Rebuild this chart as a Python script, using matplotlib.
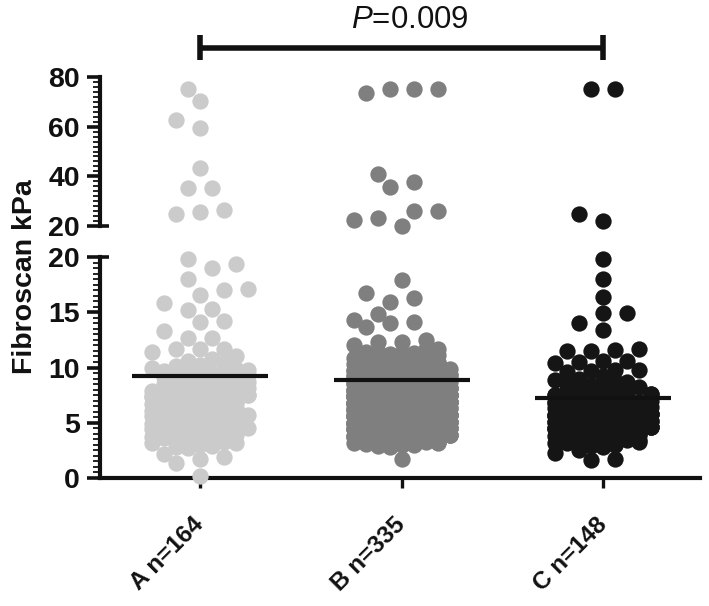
import numpy as np
import matplotlib
matplotlib.use('Agg')
import matplotlib.pyplot as plt
from matplotlib.ticker import MultipleLocator
from matplotlib.transforms import blended_transform_factory

plt.rcParams['font.family'] = ['Liberation Sans', 'DejaVu Sans']
plt.rcParams['mathtext.fontset'] = 'custom'
plt.rcParams['mathtext.it'] = 'Liberation Sans:italic'
plt.rcParams['mathtext.rm'] = 'Liberation Sans'

# ---------------- data ----------------
categories = ['A n=164', 'B n=335', 'C n=148']

group_a = [
    75.0, 70.4, 62.5, 59.4, 43.3, 35.2, 35.2, 26.4, 25.5, 24.7,
    19.8, 19.4, 19.0, 18.0, 17.1, 17.0, 16.6, 15.8, 15.3, 15.2,
    14.2, 14.1, 13.3, 12.7, 12.7, 11.7, 11.7, 11.7, 11.4, 11.0, 10.8, 10.6,
    10.4, 10.2, 10.1, 10.0, 9.9, 9.8,
    9.7, 9.6, 9.5, 9.5, 9.4, 9.3, 9.2, 9.2, 9.1, 9.0,
    8.9, 8.8, 8.8, 8.7, 8.6, 8.5, 8.5, 8.4, 8.3, 8.2, 8.2, 8.1, 8.0,
    7.9, 7.9, 7.8, 7.8, 7.7, 7.6, 7.6, 7.5, 7.5, 7.4, 7.3, 7.3, 7.2, 7.2, 7.1, 7.0, 7.0,
    6.9, 6.9, 6.8, 6.8, 6.7, 6.7, 6.6, 6.6, 6.5, 6.5, 6.4, 6.4, 6.3, 6.3, 6.2, 6.2, 6.1, 6.1, 6.0, 6.0,
    5.9, 5.9, 5.8, 5.8, 5.7, 5.7, 5.6, 5.6, 5.5, 5.5, 5.5, 5.4, 5.4, 5.3, 5.3, 5.2, 5.2, 5.1, 5.1, 5.0, 5.0,
    4.9, 4.9, 4.8, 4.8, 4.7, 4.7, 4.6, 4.6, 4.5, 4.5, 4.5, 4.4, 4.4, 4.3, 4.3, 4.2, 4.2, 4.1, 4.1, 4.0, 4.0,
    3.9, 3.8, 3.8, 3.7, 3.7, 3.6, 3.6, 3.5, 3.5, 3.4, 3.4, 3.3, 3.2, 3.2, 3.1, 3.0,
    2.9, 2.8, 2.7,
    2.2, 1.9, 1.7, 1.4, 0.2,
]

group_b = [
    75.0, 75.0, 75.0, 73.4, 41.0, 37.9, 35.9, 26.0, 26.0, 23.4, 22.4, 20.1,
    17.9, 16.7, 16.3, 15.9, 14.8, 14.3, 14.1, 14.0, 13.7, 12.5, 12.3, 12.3, 12.0, 11.7, 11.7,
    11.4, 11.4, 11.3, 11.3, 11.2, 11.1, 11.1, 11.0,
    10.9, 10.9, 10.8, 10.8, 10.7, 10.7, 10.6, 10.6, 10.5, 10.5,
    10.4, 10.4, 10.3, 10.3, 10.2, 10.2, 10.1, 10.1, 10.0, 10.0,
    9.9, 9.9, 9.8, 9.8, 9.8, 9.7, 9.7, 9.7, 9.6, 9.6, 9.6, 9.5, 9.5, 9.5,
    9.4, 9.4, 9.4, 9.3, 9.3, 9.3, 9.2, 9.2, 9.2, 9.1, 9.1, 9.0, 9.0, 9.0,
    8.9, 8.9, 8.9, 8.9, 8.8, 8.8, 8.8, 8.7, 8.7, 8.7, 8.7, 8.6, 8.6, 8.6,
    8.5, 8.5, 8.5, 8.5, 8.4, 8.4, 8.4, 8.3, 8.3, 8.3, 8.3, 8.2, 8.2, 8.2,
    8.1, 8.1, 8.1, 8.1, 8.0, 8.0, 8.0,
    7.9, 7.9, 7.9, 7.9, 7.8, 7.8, 7.8, 7.8, 7.7, 7.7, 7.7, 7.7, 7.6, 7.6, 7.6, 7.6,
    7.5, 7.5, 7.5, 7.5, 7.5, 7.4, 7.4, 7.4, 7.4, 7.3, 7.3, 7.3, 7.3, 7.2, 7.2, 7.2, 7.2,
    7.1, 7.1, 7.1, 7.1, 7.0, 7.0, 7.0, 7.0,
    6.9, 6.9, 6.9, 6.9, 6.8, 6.8, 6.8, 6.8, 6.8, 6.7, 6.7, 6.7, 6.7, 6.6, 6.6, 6.6, 6.6, 6.6,
    6.5, 6.5, 6.5, 6.5, 6.5, 6.4, 6.4, 6.4, 6.4, 6.4, 6.3, 6.3, 6.3, 6.3, 6.2, 6.2, 6.2, 6.2, 6.2,
    6.1, 6.1, 6.1, 6.1, 6.0, 6.0, 6.0, 6.0,
    5.9, 5.9, 5.9, 5.9, 5.9, 5.8, 5.8, 5.8, 5.8, 5.7, 5.7, 5.7, 5.7, 5.7, 5.6, 5.6, 5.6, 5.6, 5.6,
    5.5, 5.5, 5.5, 5.5, 5.5, 5.4, 5.4, 5.4, 5.4, 5.3, 5.3, 5.3, 5.3, 5.3, 5.2, 5.2, 5.2, 5.2,
    5.1, 5.1, 5.1, 5.1, 5.1, 5.0, 5.0, 5.0, 5.0,
    4.9, 4.9, 4.9, 4.9, 4.8, 4.8, 4.8, 4.8, 4.8, 4.7, 4.7, 4.7, 4.7, 4.6, 4.6, 4.6, 4.6, 4.6,
    4.5, 4.5, 4.5, 4.5, 4.5, 4.4, 4.4, 4.4, 4.4, 4.4, 4.3, 4.3, 4.3, 4.3, 4.2, 4.2, 4.2, 4.2, 4.2,
    4.1, 4.1, 4.1, 4.1, 4.0, 4.0, 4.0, 4.0,
    3.9, 3.9, 3.9, 3.8, 3.8, 3.8, 3.8, 3.7, 3.7, 3.7, 3.7, 3.6, 3.6, 3.6, 3.6,
    3.5, 3.5, 3.5, 3.5, 3.4, 3.4, 3.4, 3.4, 3.3, 3.3, 3.3, 3.2, 3.2, 3.2, 3.2,
    3.1, 3.1, 3.1, 3.0, 3.0, 3.0,
    2.9, 2.9, 2.8,
    1.7,
]

group_c = [
    75.0, 75.0, 24.7, 22.0,
    19.8, 18.0, 16.4, 14.9, 14.9, 14.0, 13.4,
    11.7, 11.6, 11.5, 11.5, 10.6, 10.6, 10.5, 10.4, 9.8, 9.8, 9.7, 9.6,
    9.2, 9.0, 8.9, 8.8, 8.7, 8.6, 8.5, 8.4, 8.3, 8.2, 8.1, 8.0,
    7.9, 7.8, 7.8, 7.7, 7.6, 7.6, 7.5, 7.5, 7.4, 7.4, 7.3, 7.2, 7.2, 7.1, 7.0, 7.0,
    6.9, 6.9, 6.8, 6.8, 6.7, 6.7, 6.6, 6.6, 6.5, 6.5, 6.5, 6.4, 6.4, 6.3, 6.3, 6.3,
    6.2, 6.2, 6.1, 6.1, 6.0, 6.0,
    5.9, 5.9, 5.8, 5.8, 5.8, 5.7, 5.7, 5.6, 5.6, 5.6, 5.5, 5.5, 5.4, 5.4, 5.4, 5.3,
    5.3, 5.2, 5.2, 5.2, 5.1, 5.1, 5.0, 5.0,
    4.9, 4.9, 4.8, 4.8, 4.8, 4.7, 4.7, 4.6, 4.6, 4.6, 4.5, 4.5, 4.4, 4.4, 4.4, 4.3,
    4.3, 4.2, 4.2, 4.2, 4.1, 4.1, 4.0, 4.0,
    3.9, 3.9, 3.8, 3.8, 3.7, 3.7, 3.6, 3.6, 3.5, 3.5, 3.4, 3.4, 3.3, 3.3, 3.2, 3.2,
    3.1, 3.1, 3.0, 3.0,
    2.9, 2.9, 2.8,
    2.5, 2.3, 1.7, 1.6,
]

group_means = [9.2, 8.9, 7.2]
group_colors = ['#cbcbcb', '#7f7f7f', '#151515']
p_label = '$P$=0.009'
compare_pair = (0, 2)
lower_ticks = [0, 5, 10, 15, 20]
upper_ticks = [20, 40, 60, 80]
break_value = 20

# ---------------- layout ----------------
W, H = 709, 606
INK = '#111111'
fig = plt.figure(figsize=(W / 100, H / 100), dpi=100)


def rect(l, t, r, b):
    return [l / W, 1 - b / H, (r - l) / W, (b - t) / H]


ax_bot = fig.add_axes(rect(100, 257, 700, 478))
ax_top = fig.add_axes(rect(100, 77, 700, 226))

for ax in (ax_bot, ax_top):
    ax.set_xlim(-0.496, 2.48)
    ax.patch.set_visible(False)
    for s in ('top', 'right'):
        ax.spines[s].set_visible(False)
    ax.spines['left'].set_linewidth(3.0)
    ax.spines['left'].set_color(INK)
    ax.tick_params(axis='y', which='major', direction='out', length=9.5,
                   width=2.6, pad=5, labelsize=20.5, colors=INK)
    ax.tick_params(axis='y', which='minor', direction='out', length=4.8,
                   width=1.3, colors=INK)

ax_bot.set_ylim(0, 20)
ax_top.set_ylim(20, 80)
ax_top.spines['bottom'].set_visible(False)
ax_top.tick_params(axis='x', bottom=False, labelbottom=False)
ax_bot.spines['bottom'].set_linewidth(3.0)
ax_bot.spines['bottom'].set_color(INK)

ax_bot.set_yticks(lower_ticks)
ax_bot.set_yticklabels([str(t) for t in lower_ticks], fontweight='bold')
ax_bot.yaxis.set_minor_locator(MultipleLocator(0.5))
ax_top.set_yticks(upper_ticks)
ax_top.set_yticklabels([str(t) for t in upper_ticks], fontweight='bold')
ax_top.yaxis.set_minor_locator(MultipleLocator(2))

ax_bot.set_xticks(range(len(categories)))
ax_bot.set_xticklabels(categories, rotation=45, ha='right', va='center',
                       rotation_mode='anchor', fontsize=17.5, fontweight='bold')
ax_bot.tick_params(axis='x', direction='out', length=7, width=2.4, pad=24,
                   colors=INK)

# short break caps at the 20 ends
for ax in (ax_bot, ax_top):
    tr = blended_transform_factory(ax.transAxes, ax.transData)
    ax.plot([0, 9 / 600], [break_value, break_value], transform=tr, color=INK,
            lw=2.6, clip_on=False, solid_capstyle='butt')


# ---------------- row-clustered scatter layout (Prism-like) ----------------
def swarm(values, gi, hb=5.6, kmax=5, step=24.0, half_max=54.0, diam=16.5):
    pts = []
    for v in sorted(values):
        ax = ax_top if v > break_value else ax_bot
        cx, cy = ax.transData.transform((gi, v))
        pts.append((v, ax, cx, cy))
    # greedy clusters: each starts at the lowest remaining point
    clusters, cur = [], []
    for p in pts:
        if cur and (p[3] - cur[0][3] > hb or p[1] is not cur[0][1]):
            clusters.append(cur)
            cur = []
        cur.append(p)
    if cur:
        clusters.append(cur)
    shifts_all = [0, -12, 12, -24, 24, -36, 36, -48, 48]
    placed = np.empty((0, 2))
    out = {ax_bot: ([], []), ax_top: ([], [])}
    for bp in clusters:
        nrows = int(np.ceil(len(bp) / kmax))
        for r in range(nrows):
            row = bp[r::nrows]
            m = len(row)
            st = step if m < 2 or (m - 1) / 2 * step <= half_max else 2 * half_max / (m - 1)
            base = [(i - (m - 1) / 2) * st for i in range(m)]
            if nrows == 1:
                base = sorted(base)
            else:
                base = sorted(base, key=lambda b: (abs(b), b))
            cxs = np.array([p[2] for p in row])
            cys = np.array([p[3] for p in row])
            best_s, best_d = 0, -1.0
            for s in shifts_all:
                pos = np.array(base) + s
                if np.max(np.abs(pos)) > half_max + 0.1:
                    continue
                if len(placed):
                    dx = placed[:, 0][None, :] - (cxs + pos)[:, None]
                    dy = placed[:, 1][None, :] - cys[:, None]
                    d = np.min(np.hypot(dx, dy))
                else:
                    d = np.inf
                if d >= diam:
                    best_s = s
                    break
                if d > best_d + 1e-9:
                    best_s, best_d = s, d
            pos = np.array(base) + best_s
            for p, off in zip(row, pos):
                px = p[2] + off
                placed = np.vstack([placed, [px, p[3]]])
                xd = p[1].transData.inverted().transform((px, p[3]))[0]
                out[p[1]][0].append(xd)
                out[p[1]][1].append(p[0])
    return out


for gi, (vals, col) in enumerate(zip([group_a, group_b, group_c], group_colors)):
    res = swarm(vals, gi)
    for ax, (xs, ys) in res.items():
        ax.scatter(xs, ys, s=138, color=col, linewidths=0, zorder=3, clip_on=False)

for gi, m in enumerate(group_means):
    ax_bot.hlines(m, gi - 0.3375, gi + 0.3375, colors=INK, lw=3, zorder=4)

# ---------------- significance bracket ----------------
trb = blended_transform_factory(ax_top.transData, ax_top.transAxes)
x0, x1 = compare_pair
ax_top.plot([x0, x1], [1.195, 1.195], transform=trb, color=INK, lw=4,
            clip_on=False, solid_capstyle='butt')
for xx in (x0, x1):
    ax_top.plot([xx, xx], [1.114, 1.282], transform=trb, color=INK, lw=4,
                clip_on=False, solid_capstyle='butt')
ax_top.text((x0 + x1) / 2 + 0.04, 1.329, p_label, transform=trb, ha='center',
            va='baseline', fontsize=22.5, color=INK)

fig.text(25 / W, 1 - 277 / H, 'Fibroscan kPa', rotation=90, ha='center',
         va='center', fontsize=20.5, fontweight='bold', color=INK)

fig.savefig('out.png', dpi=100)
